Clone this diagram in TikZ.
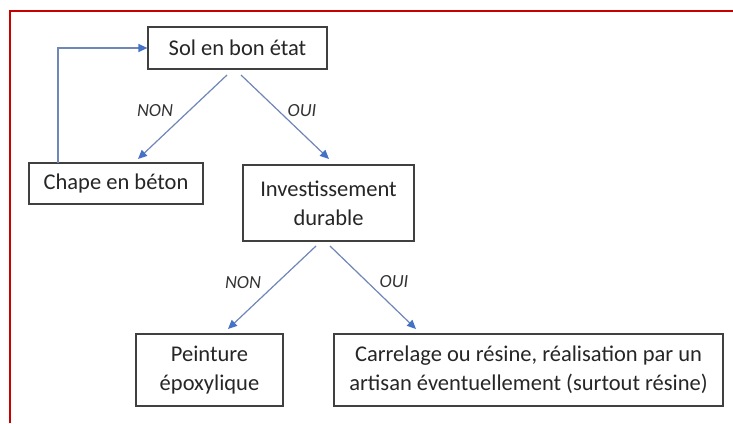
\documentclass[tikz,border=0pt]{standalone}
\usepackage{fontspec}
\setmainfont{Carlito}
\usetikzlibrary{arrows.meta}
\definecolor{frame}{HTML}{C80000}
\definecolor{arr}{HTML}{6F86B8}
\definecolor{tip}{HTML}{4472C4}
\begin{document}
\begin{tikzpicture}[x=1pt,y=-1pt,
  box/.style={draw=black!75,line width=1.2pt,inner sep=0pt,align=center,font=\fontsize{22.5}{29}\selectfont,text=black!85},
  conn/.style={draw=arr,line width=1.2pt,-{Triangle[length=9pt,width=8pt,fill=tip,color=tip]}},
  lbl/.style={font=\fontsize{18.5}{20}\selectfont\itshape,text=black!80}]
\useasboundingbox (0,0) rectangle (733,423);
\fill[white] (0,0) rectangle (733,423);
\draw[frame,line width=2pt] (10,423) -- (10,10.5) -- (733,10.5);
\node[box,minimum width=179pt,minimum height=42pt] (sol) at (237.5,48) {Sol en bon état};
\node[box,minimum width=174pt,minimum height=41pt] (chape) at (116,183.5) {Chape en béton};
\node[box,minimum width=171pt,minimum height=76pt] (inv) at (328.5,203) {Investissement\\durable};
\node[box,minimum width=147pt,minimum height=72pt] (peint) at (209.5,370) {Peinture\\époxylique};
\node[box,minimum width=389pt,minimum height=72pt] (carr) at (528.5,370) {Carrelage ou résine, réalisation par un\\artisan éventuellement (surtout résine)};
\coordinate (s1) at (227,75);
\coordinate (s2) at (241,75);
\coordinate (c1) at (138,159);
\coordinate (i1) at (329,159);
\coordinate (i2) at (316,246);
\coordinate (i3) at (330,246);
\coordinate (p1) at (228,329);
\coordinate (k1) at (416,329);
\coordinate (ch) at (58,163);
\coordinate (corner) at (58,48);
\draw[conn] (s1) -- (c1);
\draw[conn] (s2) -- (i1);
\draw[conn] (i2) -- (p1);
\draw[conn] (i3) -- (k1);
\draw[conn] (ch) -- (corner) -- (sol.west);
\node[lbl] (n1) at (155,111) {NON};
\node[lbl] (o1) at (302,111) {OUI};
\node[lbl] (n2) at (243,283) {NON};
\node[lbl] (o2) at (394,282) {OUI};
\end{tikzpicture}
\end{document}
